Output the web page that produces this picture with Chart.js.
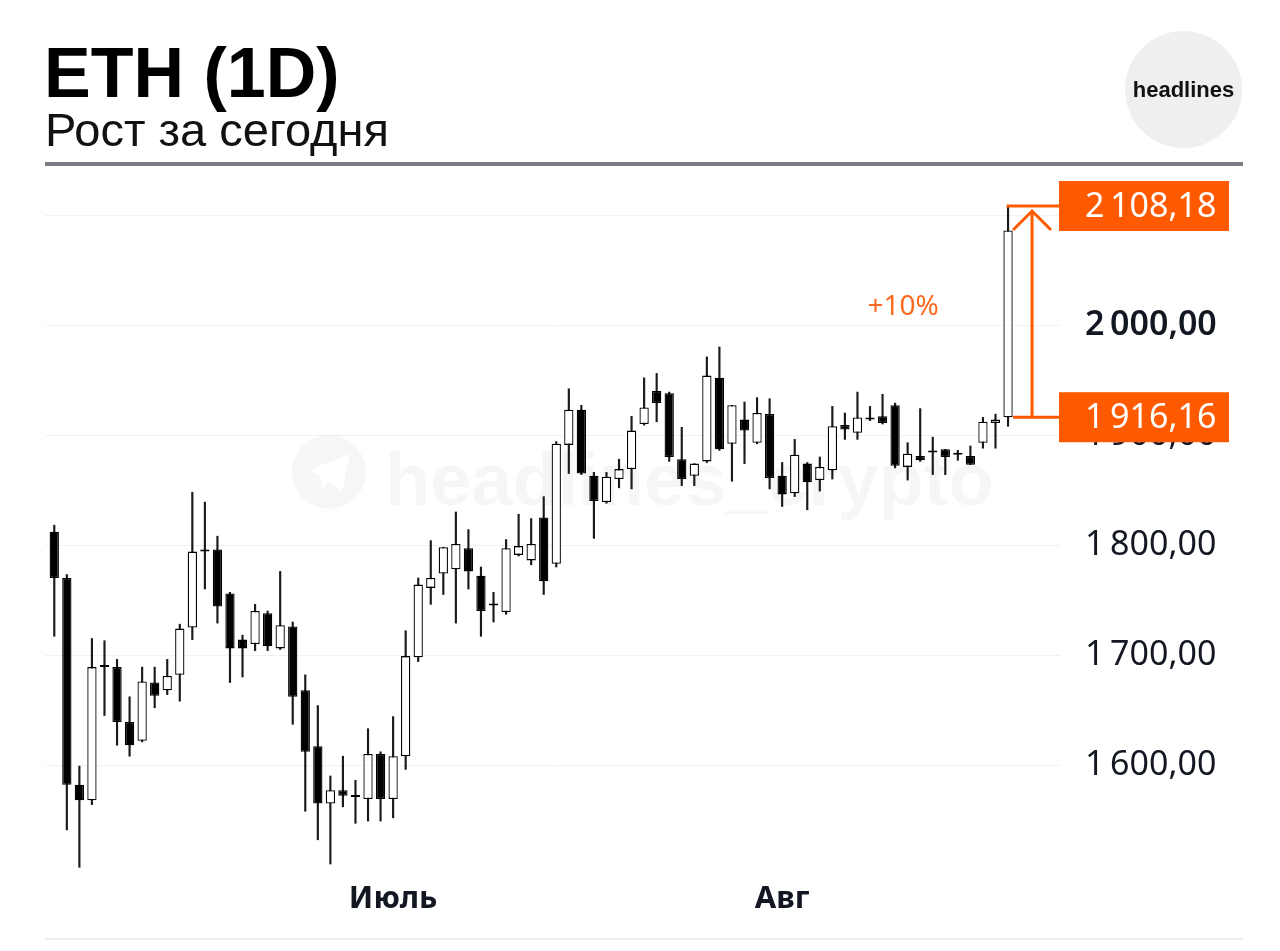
<!DOCTYPE html>
<html lang="ru">
<head>
<meta charset="utf-8">
<title>ETH (1D)</title>
<script src="https://cdn.jsdelivr.net/npm/chart.js@4.4.1/dist/chart.umd.min.js"></script>
<style>
  html, body { margin: 0; padding: 0; background: #fff; }
  #wrap { position: relative; width: 1280px; height: 951px; overflow: hidden; }
  #wrap canvas { position: absolute; left: 0; top: 0; }
  .title {
    position: absolute; left: 44px; top: 38px;
    font: bold 70px/70px "Liberation Sans", Arial, sans-serif; color: #000;
  }
  .sub {
    position: absolute; left: 45px; top: 106px;
    font: 47px/47px "Liberation Sans", Arial, sans-serif; color: #111;
  }
  .logo {
    position: absolute; left: 1125px; top: 31px; width: 117px; height: 117px;
    border-radius: 50%; background: #efefef;
    display: flex; align-items: center; justify-content: center;
    font: bold 22px "Liberation Sans", Arial, sans-serif; color: #111;
  }
  .rule { position: absolute; left: 45px; top: 162px; width: 1198px; height: 4px; background: #7d7d87; }
  .base { position: absolute; left: 45px; top: 938px; width: 1198px; height: 2px; background: #ededed; }
</style>
</head>
<body>
<div id="wrap">
  <canvas id="ethChart"></canvas>
  <div class="title">ETH (1D)</div>
  <div class="sub">Рост за сегодня</div>
  <div class="logo">headlines</div>
  <div class="rule"></div>
  <div class="base"></div>
</div>

<script>
// Свечи ETH, дневной таймфрейм
const candleOpen = [
  1812, 1770, 1582, 1568, 1689, 1689, 1639, 1622, 1675, 1668,
  1682, 1725, 1794, 1796, 1756, 1714, 1710, 1738, 1706, 1726,
  1668, 1617, 1565, 1577, 1572, 1569, 1610, 1569, 1608, 1698,
  1761, 1774, 1778, 1797, 1772, 1746, 1739, 1791, 1786, 1825,
  1783, 1891, 1923, 1863, 1839, 1860, 1869, 1910, 1940, 1938,
  1878, 1863, 1876, 1952, 1892, 1914, 1893, 1919, 1863, 1847,
  1874, 1859, 1868, 1909, 1902, 1914, 1917, 1927, 1871, 1881,
  1884, 1887, 1882, 1881, 1893, 1911, 1916.16
];
const candleHigh = [
  1818, 1773, 1599, 1715, 1713, 1696, 1662, 1689, 1689, 1696,
  1728, 1848, 1839, 1808, 1757, 1718, 1746, 1740, 1776, 1730,
  1682, 1654, 1590, 1608, 1586, 1633, 1612, 1644, 1722, 1770,
  1804, 1798, 1830, 1814, 1780, 1757, 1805, 1828, 1824, 1844,
  1894, 1942, 1927, 1866, 1866, 1878, 1917, 1952, 1956, 1939,
  1907, 1874, 1971, 1980, 1927, 1930, 1934, 1933, 1875, 1896,
  1875, 1880, 1926, 1920, 1939, 1926, 1937, 1929, 1893, 1924,
  1898, 1887, 1886, 1890, 1916, 1919, 2108.18
];
const candleLow = [
  1717, 1541, 1507, 1564, 1645, 1618, 1608, 1621, 1652, 1664,
  1658, 1714, 1760, 1729, 1675, 1680, 1704, 1704, 1705, 1637,
  1558, 1532, 1510, 1562, 1547, 1549, 1549, 1552, 1596, 1694,
  1746, 1755, 1729, 1760, 1717, 1730, 1737, 1790, 1782, 1755,
  1780, 1865, 1864, 1806, 1838, 1852, 1851, 1909, 1912, 1876,
  1854, 1854, 1875, 1886, 1858, 1874, 1892, 1851, 1835, 1844,
  1832, 1849, 1860, 1896, 1896, 1913, 1910, 1870, 1859, 1876,
  1864, 1864, 1877, 1873, 1888, 1888, 1908
];
const candleClose = [
  1770, 1582, 1568, 1689, 1690, 1639, 1618, 1676, 1663, 1681,
  1724, 1794, 1795, 1744, 1706, 1706, 1740, 1708, 1727, 1662,
  1612, 1565, 1577, 1572, 1571, 1610, 1569, 1608, 1699, 1764,
  1770, 1798, 1801, 1776, 1740, 1745, 1797, 1799, 1801, 1767,
  1892, 1923, 1865, 1840, 1862, 1869, 1904, 1925, 1929, 1880,
  1860, 1874, 1954, 1887, 1927, 1904, 1920, 1861, 1846, 1882,
  1857, 1871, 1908, 1905, 1916, 1916, 1911, 1872, 1883, 1877,
  1886, 1880, 1882, 1873, 1912, 1914, 2086
];

// Подписи оси X: номер свечи, с которой начинается месяц
const monthLabels = ['Июль', 'Авг'];
const monthStartIndex = [27, 58];

// Уровни цены на правой оси
const priceTicks = [1600, 1700, 1800, 1900, 2000, 2100];

const ORANGE = '#ff5a00';
const TEXT = '#131722';

// "2 000,00"
function formatPrice(v) {
  const parts = Number(v).toFixed(2).split('.');
  return parts[0].replace(/\B(?=(\d{3})+(?!\d))/g, '\u2009') + ',' + parts[1];
}

// Водяной знак за свечами
const watermarkPlugin = {
  id: 'watermark',
  beforeDatasetsDraw(chart) {
    const ctx = chart.ctx;
    ctx.save();
    ctx.fillStyle = 'rgba(0,0,0,0.035)';
    ctx.beginPath();
    ctx.arc(329, 472, 37, 0, Math.PI * 2);
    ctx.fill();
    ctx.fillStyle = 'rgba(255,255,255,0.9)';
    ctx.beginPath();
    ctx.moveTo(309, 470);
    ctx.lineTo(350, 454);
    ctx.lineTo(342, 492);
    ctx.lineTo(329, 482);
    ctx.lineTo(322, 490);
    ctx.lineTo(320, 476);
    ctx.closePath();
    ctx.fill();
    ctx.fillStyle = 'rgba(0,0,0,0.035)';
    ctx.font = 'bold 74px "Liberation Sans", Arial, sans-serif';
    ctx.textBaseline = 'alphabetic';
    ctx.fillText('headlines_crypto', 385, 505);
    ctx.restore();
  }
};

// Оранжевая стрелка роста и плашки с ценой
const growthPlugin = {
  id: 'growth',
  afterDatasetsDraw(chart) {
    const ctx = chart.ctx;
    const xs = chart.scales.x;
    const ys = chart.scales.y;
    const last = candleOpen.length - 1;
    const from = candleOpen[last];
    const to = candleHigh[last];
    const cx = xs.getPixelForValue(last);
    const yTo = ys.getPixelForValue(to);
    const yFrom = ys.getPixelForValue(from);
    const right = chart.chartArea.right;
    const ax = cx + 24;

    ctx.save();
    ctx.strokeStyle = ORANGE;
    ctx.lineWidth = 3;
    ctx.lineCap = 'butt';
    ctx.beginPath();
    ctx.moveTo(cx - 1.5, yTo);
    ctx.lineTo(right, yTo);
    ctx.moveTo(cx + 5, yFrom);
    ctx.lineTo(right, yFrom);
    ctx.moveTo(ax, yFrom);
    ctx.lineTo(ax, yTo + 5);
    ctx.stroke();
    ctx.beginPath();
    ctx.moveTo(ax - 19, yTo + 24);
    ctx.lineTo(ax, yTo + 5);
    ctx.lineTo(ax + 19, yTo + 24);
    ctx.stroke();

    [to, from].forEach(v => {
      const yc = ys.getPixelForValue(v);
      ctx.fillStyle = ORANGE;
      ctx.fillRect(right - 1, yc - 25, 170, 50);
      ctx.fillStyle = '#ffffff';
      ctx.font = '34px "Noto Sans", sans-serif';
      ctx.textBaseline = 'middle';
      ctx.textAlign = 'left';
      ctx.fillText(formatPrice(v), right + 25, yc + 1);
    });

    const pct = (to / from - 1) * 100;
    ctx.fillStyle = '#ff6a1f';
    ctx.font = '28px "Noto Sans", sans-serif';
    ctx.textAlign = 'center';
    ctx.textBaseline = 'middle';
    ctx.fillText('+' + Math.round(pct) + '%', cx - 105, ys.getPixelForValue(2016));
    ctx.restore();
  }
};

document.addEventListener('DOMContentLoaded', function () {
  const ctx = document.getElementById('ethChart').getContext('2d');
  Chart.defaults.font.family = '"Noto Sans", sans-serif';
  Chart.defaults.color = TEXT;

  new Chart(ctx, {
    type: 'bar',
    data: {
      datasets: [
        {
          label: 'Тени',
          data: candleLow.map((l, i) => ({ x: i, y: [l, candleHigh[i]] })),
          backgroundColor: '#1a1a1a',
          barThickness: 1.5,
          grouped: false,
          order: 2
        },
        {
          label: 'Тела',
          data: candleOpen.map((o, i) => ({ x: i, y: [o, candleClose[i]] })),
          backgroundColor: c => candleClose[c.dataIndex] >= candleOpen[c.dataIndex] ? '#ffffff' : '#000000',
          borderColor: '#000000',
          borderWidth: 1.3,
          borderSkipped: false,
          barPercentage: 0.74,
          categoryPercentage: 1,
          minBarLength: 2,
          grouped: false,
          order: 1
        }
      ]
    },
    options: {
      responsive: true,
      maintainAspectRatio: false,
      animation: false,
      layout: { padding: { left: 45, right: 37, top: 171, bottom: 11 } },
      plugins: {
        legend: { display: false },
        tooltip: { enabled: false }
      },
      scales: {
        x: {
          type: 'linear',
          offset: false,
          min: -0.74,
          max: 80.14,
          grid: { display: false, drawTicks: false },
          border: { display: false },
          afterBuildTicks: scale => {
            scale.ticks = monthStartIndex.map(v => ({ value: v }));
          },
          afterFit: scale => { scale.height = 65; },
          ticks: {
            autoSkip: false,
            maxRotation: 0,
            padding: 6,
            color: TEXT,
            font: { size: 31, weight: 'bold' },
            callback: v => monthLabels[monthStartIndex.indexOf(v)]
          }
        },
        y: {
          type: 'linear',
          position: 'right',
          min: 1500,
          max: 2140,
          grid: { color: '#f1f1f3', drawTicks: false },
          border: { display: false },
          afterBuildTicks: scale => {
            scale.ticks = priceTicks.map(v => ({ value: v }));
          },
          afterFit: scale => { scale.width = 183; },
          ticks: {
            padding: 25,
            color: TEXT,
            font: c => ({ size: 34, weight: c.tick && c.tick.value === 2000 ? '600' : 'normal' }),
            callback: v => formatPrice(v)
          }
        }
      }
    },
    plugins: [watermarkPlugin, growthPlugin]
  });
});
</script>
</body>
</html>
